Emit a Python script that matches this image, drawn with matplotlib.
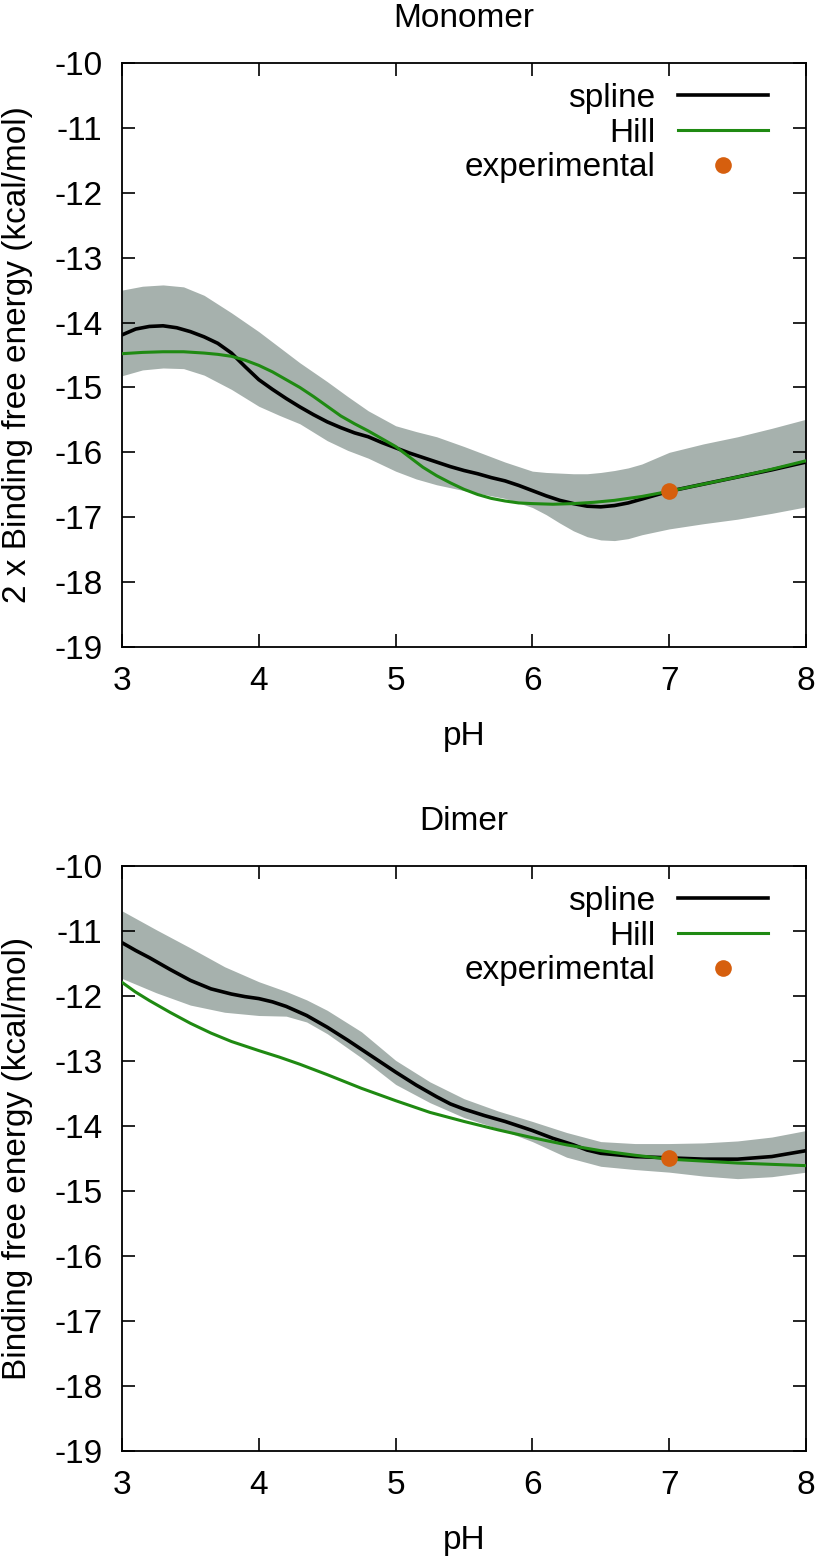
import matplotlib
matplotlib.use("Agg")
import matplotlib.pyplot as plt

plt.rcParams['font.family'] = ['Liberation Sans', 'DejaVu Sans']

# ---------------- Monomer data ----------------
mono_spline_ph = [3.0, 3.1, 3.2, 3.3, 3.4, 3.5, 3.6, 3.7, 3.8, 3.9, 4.0, 4.1, 4.2, 4.3, 4.4, 4.5, 4.6, 4.7, 4.8, 4.9,
                  5.0, 5.1, 5.2, 5.3, 5.4, 5.5, 5.6, 5.7, 5.8, 5.9, 6.0, 6.1, 6.2, 6.3, 6.4, 6.5, 6.6, 6.7, 6.8, 6.9,
                  7.0, 7.25, 7.5, 7.75, 8.0]
mono_spline = [-14.19, -14.10, -14.06, -14.05, -14.08, -14.14, -14.22, -14.32, -14.47, -14.68, -14.88, -15.03, -15.17, -15.30, -15.42, -15.53, -15.62, -15.70, -15.76, -15.85,
               -15.93, -16.01, -16.08, -16.15, -16.22, -16.28, -16.33, -16.39, -16.44, -16.51, -16.59, -16.67, -16.74, -16.79, -16.83, -16.84, -16.82, -16.78, -16.72, -16.66,
               -16.60, -16.49, -16.38, -16.27, -16.15]

mono_band_ph = [3.0, 3.15, 3.3, 3.45, 3.6, 3.8, 4.0, 4.15, 4.3, 4.5, 4.65, 4.8, 5.0, 5.15, 5.3, 5.5, 5.65, 5.8, 6.0, 6.1,
                6.2, 6.3, 6.4, 6.5, 6.6, 6.7, 6.8, 7.0, 7.25, 7.5, 7.75, 8.0]
mono_band_hi = [-13.50, -13.44, -13.42, -13.45, -13.58, -13.85, -14.14, -14.38, -14.62, -14.91, -15.14, -15.36, -15.59, -15.68, -15.76, -15.91, -16.03, -16.15, -16.29, -16.31,
                -16.32, -16.33, -16.33, -16.31, -16.28, -16.24, -16.18, -16.00, -15.87, -15.76, -15.63, -15.49]
mono_band_lo = [-14.82, -14.73, -14.70, -14.71, -14.81, -15.03, -15.29, -15.43, -15.56, -15.82, -15.97, -16.09, -16.29, -16.41, -16.50, -16.59, -16.65, -16.71, -16.85, -16.96,
                -17.09, -17.21, -17.30, -17.35, -17.36, -17.33, -17.27, -17.18, -17.10, -17.03, -16.94, -16.84]

mono_hill_ph = [3.0, 3.15, 3.3, 3.45, 3.6, 3.7, 3.8, 3.9, 4.0, 4.1, 4.2, 4.3, 4.4, 4.5, 4.6, 4.7, 4.8, 4.9, 5.0, 5.1,
                5.2, 5.3, 5.4, 5.5, 5.6, 5.7, 5.8, 5.9, 6.0, 6.15, 6.3, 6.45, 6.6, 6.8, 7.0, 7.25, 7.5, 7.75, 8.0]
mono_hill = [-14.48, -14.46, -14.45, -14.45, -14.47, -14.49, -14.52, -14.58, -14.66, -14.76, -14.88, -15.00, -15.14, -15.29, -15.44, -15.56, -15.67, -15.79, -15.91, -16.07,
             -16.23, -16.36, -16.47, -16.57, -16.65, -16.71, -16.75, -16.78, -16.79, -16.80, -16.79, -16.77, -16.74, -16.68, -16.60, -16.49, -16.38, -16.26, -16.13]

mono_exp_ph = [7.0]
mono_exp = [-16.60]

# ---------------- Dimer data ----------------
dim_spline_ph = [3.0, 3.1, 3.2, 3.35, 3.5, 3.65, 3.8, 3.9, 4.0, 4.1, 4.2, 4.35, 4.5, 4.65, 4.8, 4.9, 5.0, 5.15, 5.3, 5.4,
                 5.5, 5.65, 5.8, 5.9, 6.0, 6.15, 6.3, 6.4, 6.5, 6.75, 7.0, 7.25, 7.5, 7.75, 8.0]
dim_spline = [-11.18, -11.30, -11.41, -11.59, -11.76, -11.89, -11.97, -12.01, -12.04, -12.09, -12.16, -12.30, -12.48, -12.68, -12.89, -13.03, -13.17, -13.37, -13.55, -13.66,
              -13.74, -13.84, -13.93, -14.00, -14.07, -14.19, -14.29, -14.37, -14.42, -14.47, -14.49, -14.51, -14.51, -14.47, -14.38]

dim_band_ph = [3.0, 3.25, 3.5, 3.75, 4.0, 4.2, 4.35, 4.5, 4.75, 5.0, 5.25, 5.5, 5.75, 6.0, 6.25, 6.5, 6.75, 7.0, 7.25, 7.5,
               7.75, 8.0]
dim_band_hi = [-10.69, -10.98, -11.26, -11.55, -11.78, -11.93, -12.06, -12.22, -12.55, -12.99, -13.32, -13.58, -13.77, -13.93, -14.10, -14.24, -14.27, -14.27, -14.26, -14.23,
               -14.17, -14.07]
dim_band_lo = [-11.73, -11.95, -12.14, -12.25, -12.30, -12.31, -12.40, -12.58, -12.95, -13.36, -13.64, -13.87, -14.04, -14.24, -14.48, -14.62, -14.67, -14.71, -14.77, -14.81,
               -14.78, -14.71]

dim_hill_ph = [3.0, 3.1, 3.2, 3.35, 3.5, 3.65, 3.8, 4.0, 4.15, 4.3, 4.5, 4.75, 5.0, 5.25, 5.5, 5.75, 6.0, 6.25, 6.5, 6.75,
               7.0, 7.25, 7.5, 7.75, 8.0]
dim_hill = [-11.79, -11.94, -12.07, -12.25, -12.42, -12.57, -12.70, -12.84, -12.94, -13.05, -13.21, -13.42, -13.61, -13.79, -13.93, -14.06, -14.18, -14.29, -14.38, -14.45,
            -14.51, -14.54, -14.57, -14.59, -14.61]

dim_exp_ph = [7.0]
dim_exp = [-14.49]

titles = ["Monomer", "Dimer"]
ylabels = ["2 x Binding free energy (kcal/mol)", "Binding free energy (kcal/mol)"]
xticks = [3, 4, 5, 6, 7, 8]
yticks = [-10, -11, -12, -13, -14, -15, -16, -17, -18, -19]

BAND = "#a6b1ad"
GREEN = "#1f8a12"
ORANGE = "#d65f0e"
FS = 24

fig = plt.figure(figsize=(8.2, 15.58), dpi=100)
ax1 = fig.add_axes([122/820, 1 - 647/1558, 684/820, 584/1558])
ax2 = fig.add_axes([122/820, 1 - 1451/1558, 684/820, 585/1558])

panels = [
    (ax1, mono_band_ph, mono_band_lo, mono_band_hi, mono_spline_ph, mono_spline, mono_hill_ph, mono_hill, mono_exp_ph, mono_exp),
    (ax2, dim_band_ph, dim_band_lo, dim_band_hi, dim_spline_ph, dim_spline, dim_hill_ph, dim_hill, dim_exp_ph, dim_exp),
]

for i, (ax, bph, blo, bhi, sph, sv, hph, hv, eph, ev) in enumerate(panels):
    ax.fill_between(bph, blo, bhi, color=BAND, lw=0, zorder=1)
    ax.plot(sph, sv, color="black", lw=2.6, label="spline", zorder=3, solid_joinstyle='round')
    ax.plot(hph, hv, color=GREEN, lw=2.2, label="Hill", zorder=4, solid_joinstyle='round')
    ax.plot(eph, ev, 'o', color=ORANGE, ms=12, mew=0, label="experimental", zorder=5, clip_on=False)
    ax.set_xlim(3, 8)
    ax.set_ylim(-19, -10)
    ax.set_xticks(xticks)
    ax.set_yticks(yticks)
    ax.set_xticklabels([str(t) for t in xticks])
    ax.set_yticklabels([str(t) for t in yticks])
    ax.tick_params(direction='in', length=9.5, width=1.2, top=True, right=True,
                   labelsize=FS, pad=14)
    ax.tick_params(axis='y', pad=14)
    for s in ax.spines.values():
        s.set_linewidth(1.3)
    ax.set_title(titles[i], fontsize=FS, pad=26)
    ax.set_xlabel("pH", fontsize=FS)
    ax.set_ylabel(ylabels[i], fontsize=FS)
    ax.yaxis.set_label_coords(-0.130, 0.5)
    ax.xaxis.set_label_coords(0.5, -0.127)
    leg = ax.legend(loc='upper right', bbox_to_anchor=(0.944, 0.966), frameon=False,
                    fontsize=FS, markerfirst=False, handlelength=2.7, handletextpad=0.66,
                    labelspacing=0.11, borderaxespad=0.0, borderpad=0.0, numpoints=1)

fig.savefig("out.png", dpi=100)
